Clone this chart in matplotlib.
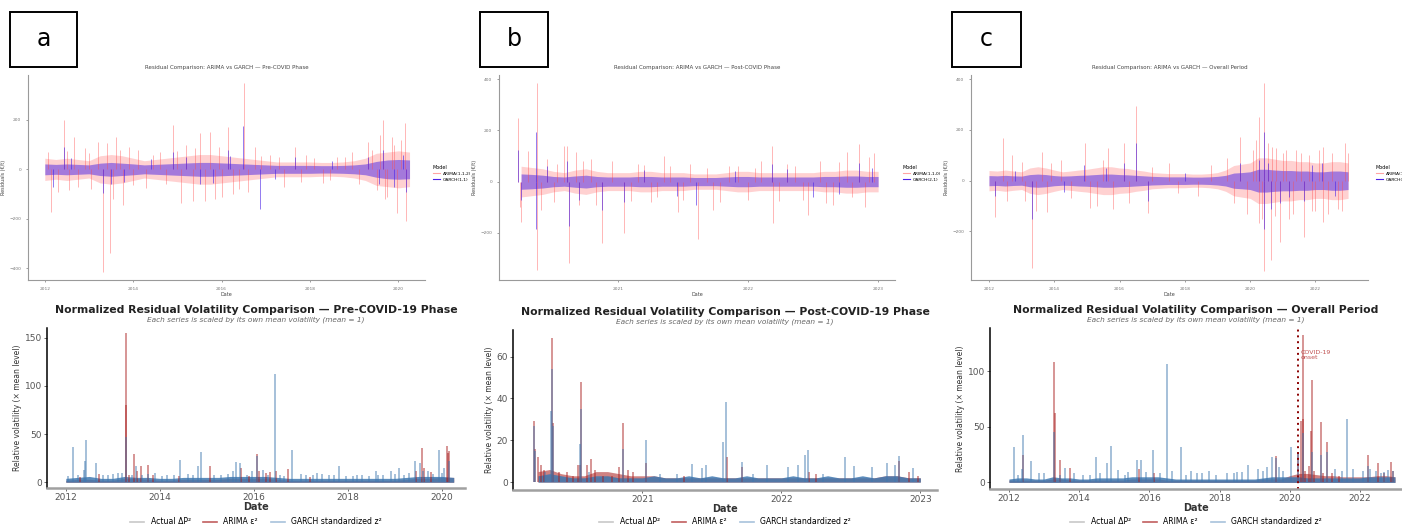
import numpy as np
import matplotlib
matplotlib.use("Agg")
import matplotlib.pyplot as plt
from matplotlib.patches import Rectangle
from matplotlib.lines import Line2D

W, H = 1402, 529

# ---------------- top row: raw residuals (ARIMA vs GARCH) ----------------
top_titles = ["Residual Comparison: ARIMA vs GARCH \u2014 Pre-COVID Phase",
              "Residual Comparison: ARIMA vs GARCH \u2014 Post-COVID Phase",
              "Residual Comparison: ARIMA vs GARCH \u2014 Overall Period"]
top_models = [["ARIMA(1,1,2)", "GARCH(1,1)"],
              ["ARIMA(1,1,0)", "GARCH(2,1)"],
              ["ARIMA(1,1,2)", "GARCH(1,1)"]]

# band grid (quarterly for a and c, monthly for b)
grid_a = np.arange(34) * 0.25 + 2012.0
grid_b = np.arange(34) / 12 + 2020.25
grid_c = np.arange(45) * 0.25 + 2012.0

arima_band_a = [45, 40, 45, 40, 35, 55, 60, 55, 45, 35, 40, 45, 50, 55, 60, 60, 55,
                50, 45, 40, 35, 30, 30, 30, 30, 28, 28, 30, 35, 45, 65, 70, 75, 70]
garch_band_a = [22, 20, 22, 20, 18, 25, 28, 25, 22, 18, 20, 22, 24, 26, 28, 28, 26,
                24, 22, 20, 18, 16, 16, 16, 16, 15, 15, 16, 18, 22, 32, 38, 40, 38]
arima_band_b = [60, 55, 50, 40, 35, 45, 50, 40, 35, 35, 35, 40, 40, 35, 35, 35, 30,
                30, 30, 35, 40, 40, 35, 35, 35, 35, 35, 35, 40, 40, 45, 45, 40, 40]
garch_band_b = [30, 28, 25, 20, 18, 22, 25, 20, 18, 18, 18, 20, 20, 18, 18, 18, 16,
                16, 16, 18, 20, 20, 18, 18, 18, 18, 18, 18, 20, 20, 22, 22, 20, 20]
arima_band_c = [40, 38, 42, 38, 35, 50, 55, 50, 42, 35, 38, 42, 45, 50, 55, 55, 50, 48,
                42, 38, 32, 30, 28, 28, 28, 26, 26, 28, 32, 42, 60, 65, 70, 90, 90, 85,
                80, 80, 75, 75, 70, 70, 75, 75, 70]
garch_band_c = [20, 19, 21, 19, 18, 24, 26, 24, 20, 18, 19, 21, 22, 24, 26, 26, 24, 23,
                21, 19, 17, 16, 15, 15, 15, 14, 14, 15, 17, 21, 30, 32, 35, 45, 45, 42,
                40, 40, 38, 38, 35, 35, 38, 38, 35]

arima_spk_a_x = [2012.08, 2012.15, 2012.3, 2012.43, 2012.55, 2012.66, 2012.9, 2013.05,
                 2013.2, 2013.31, 2013.40, 2013.47, 2013.55, 2013.62, 2013.77, 2013.9,
                 2014.1, 2014.3, 2014.6, 2014.91, 2015.09, 2015.2, 2015.35, 2015.51,
                 2015.62, 2015.74, 2015.85, 2016.0, 2016.14, 2016.25, 2016.51, 2016.6,
                 2016.75, 2017.1, 2017.4, 2017.66, 2017.9, 2018.3, 2018.6, 2018.95,
                 2019.3, 2019.51, 2019.58, 2019.66, 2019.75, 2019.85, 2019.96, 2020.05,
                 2020.15, 2020.17, 2012.5, 2012.75, 2013.0, 2013.7, 2014.0, 2014.45,
                 2014.75, 2015.0, 2015.4, 2015.95, 2016.4, 2016.9, 2017.3, 2017.8,
                 2018.1, 2018.45, 2018.8, 2019.1, 2019.4, 2019.7, 2019.9]
arima_spk_a_y = [70, -171, -90, 200, -85, 132, 85, -80, 110, -414, 105, -340, -120, 132,
                 -145, 90, 80, -75, 70, 180, -138, 100, -130, 146, -130, 152, -120, -110,
                 173, -100, 351, -90, 90, 60, -70, 92, 60, -55, 50, 70, 110, -84, 140,
                 200, -110, 130, -178, 120, 186, -210, 75, -70, 65, 80, -65, 60, -60,
                 75, 85, 90, -80, 55, 50, -50, 45, -45, 50, -60, 80, -120, 100]
garch_spk_a_x = [2012.19, 2012.43, 2013.31, 2013.5, 2014.9, 2015.5, 2016.14, 2016.49,
                 2016.87, 2017.66, 2019.66, 2019.9, 2020.1, 2020.17, 2012.6, 2013.8,
                 2014.4, 2015.2, 2015.8, 2016.2, 2017.2, 2018.5, 2019.3, 2019.55]
garch_spk_a_y = [-70, 90, -97, -60, 70, -60, 80, 175, -162, 50, 80, -70, 60, -90, 45,
                 -50, 40, 50, -55, 55, -40, 35, 50, -60]

arima_spk_b_x = [2020.23, 2020.24, 2020.25, 2020.3, 2020.37, 2020.372, 2020.45, 2020.5,
                 2020.58, 2020.6, 2020.62, 2020.67, 2020.7, 2020.79, 2020.87, 2020.95,
                 2021.04, 2021.15, 2021.25, 2021.35, 2021.46, 2021.55, 2021.61, 2021.73,
                 2021.85, 2022.0, 2022.1, 2022.18, 2022.19, 2022.3, 2022.46, 2022.55,
                 2022.65, 2022.76, 2022.85, 2022.9, 2022.97, 2020.4, 2020.53, 2020.73,
                 2020.83, 2021.1, 2021.2, 2021.3, 2021.4, 2021.5, 2021.68, 2021.78,
                 2021.92, 2022.05, 2022.24, 2022.36, 2022.42, 2022.6, 2022.7, 2022.8,
                 2022.93]
arima_spk_b_y = [247, -100, -156, 120, 384, -345, 90, -80, 137, 137, -318, 117, -90, 87,
                 -240, 80, -201, 70, -80, 100, -117, 70, -225, -110, 60, -70, 80, 137,
                 -160, 70, -130, 80, -90, 117, 147, -100, 110, -110, 70, 80, -90, -75,
                 65, -60, 60, -70, 55, -80, 60, 55, -75, 60, -70, -85, 75, -60, 95]
garch_spk_b_x = [2020.23, 2020.25, 2020.365, 2020.368, 2020.6, 2020.62, 2020.87, 2021.04,
                 2021.6, 2022.18, 2022.5, 2022.85, 2020.45, 2020.7, 2021.2, 2021.45,
                 2021.9, 2022.3, 2022.7, 2022.95]
garch_spk_b_y = [123, -70, 195, -185, 80, -175, -110, -80, -90, 70, -60, 72, 60, -70,
                 45, -55, 40, 50, -50, 55]

arima_spk_c_x = [2012.18, 2012.44, 2012.7, 2013.1, 2013.31, 2013.45, 2013.61, 2013.77,
                 2014.2, 2014.94, 2015.09, 2015.3, 2015.65, 2015.8, 2016.13, 2016.5,
                 2016.88, 2017.5, 2018.4, 2019.3, 2019.68, 2019.9, 2020.19, 2020.27,
                 2020.28, 2020.42, 2020.43, 2020.55, 2020.65, 2020.66, 2020.8, 2020.91,
                 2021.0, 2021.2, 2021.4, 2021.65, 2021.8, 2022.0, 2022.23, 2022.24,
                 2022.5, 2022.7, 2022.9, 2023.0, 2012.55, 2013.0, 2013.9, 2014.5,
                 2015.5, 2016.3, 2017.0, 2017.8, 2018.8, 2019.5, 2020.1, 2020.35,
                 2020.75, 2021.1, 2021.3, 2021.55, 2021.9, 2022.1, 2022.4, 2022.8]
arima_spk_c_y = [-142, 167, 100, -80, -346, -120, 114, -122, 80, 147, -109, -100, 128,
                 -110, 147, 295, -129, 70, -60, 90, 171, -130, 160, 253, -168, 387, -355,
                 150, -313, 134, 130, -241, 110, -150, 120, -221, 100, -120, -162, 134,
                 110, -110, 147, 108, -80, 75, 70, -70, 80, -90, 55, -50, 60, -90, 120,
                 -150, -140, 120, -130, 110, -120, 120, -130, -120]
garch_spk_c_x = [2012.18, 2013.31, 2014.9, 2016.13, 2016.5, 2016.88, 2019.7, 2020.27,
                 2020.42, 2020.43, 2020.65, 2020.9, 2021.65, 2022.2, 2012.8, 2014.3,
                 2015.6, 2018.0, 2020.55, 2021.2, 2021.9, 2022.6]
garch_spk_c_y = [-60, -150, 60, 70, 147, -80, 70, 82, 193, -190, -110, -90, -80, 70,
                 40, -45, 50, 30, 70, -65, 60, -60]

top_data = [
    (grid_a, arima_band_a, garch_band_a, arima_spk_a_x, arima_spk_a_y, garch_spk_a_x, garch_spk_a_y),
    (grid_b, arima_band_b, garch_band_b, arima_spk_b_x, arima_spk_b_y, garch_spk_b_x, garch_spk_b_y),
    (grid_c, arima_band_c, garch_band_c, arima_spk_c_x, arima_spk_c_y, garch_spk_c_x, garch_spk_c_y),
]
top_xlims = [(2011.62, 2020.60), (2020.08, 2023.13), (2011.45, 2023.61)]
top_ylims = [(-448, 382), (-384, 416), (-392, 417)]
top_xticks = [[2012, 2014, 2016, 2018, 2020], [2021, 2022, 2023],
              [2012, 2014, 2016, 2018, 2020, 2022]]
top_yticks = [[-400, -200, 0, 200], [-200, 0, 200, 400], [-200, 0, 200, 400]]

# ---------------- bottom row: normalised volatility ----------------
bot_titles = ["Normalized Residual Volatility Comparison \u2014 Pre-COVID-19 Phase",
              "Normalized Residual Volatility Comparison \u2014 Post-COVID-19 Phase",
              "Normalized Residual Volatility Comparison \u2014 Overall Period"]
bot_sub = "Each series is scaled by its own mean volatility (mean = 1)"
series_names = ["Actual \u0394P\u00b2", "ARIMA \u03b5\u00b2", "GARCH standardized z\u00b2"]

garch_base_a = [4, 5, 6, 4, 4, 6, 5, 5, 4, 4, 5, 5, 5, 5, 6, 6, 6,
                6, 5, 4, 4, 4, 4, 4, 4, 4, 4, 4, 4, 5, 6, 6, 6, 5]
arima_base_a = [2, 3, 3, 2, 2, 4, 4, 3, 2, 2, 3, 3, 3, 3, 4, 4, 4,
                4, 3, 2, 2, 2, 2, 2, 2, 2, 2, 2, 2, 3, 4, 4, 5, 5]
actual_base_a = [2, 2, 3, 2, 2, 3, 3, 2, 2, 2, 2, 2, 2, 3, 3, 3, 3,
                 3, 2, 2, 2, 2, 2, 2, 2, 2, 2, 2, 2, 2, 3, 3, 3, 3]
garch_base_b = [3, 4, 3, 2, 2, 3, 3, 2, 2, 2, 3, 2, 2, 3, 2, 3, 2,
                2, 3, 2, 2, 2, 3, 2, 2, 3, 2, 2, 3, 2, 3, 3, 2, 2]
arima_base_b = [5, 6, 4, 3, 3, 5, 5, 4, 3, 3, 3, 2, 2, 2, 2, 2, 2,
                2, 2, 2, 2, 2, 2, 2, 2, 2, 2, 2, 2, 2, 3, 3, 2, 2]
actual_base_b = [3, 3, 2, 2, 2, 2, 3, 2, 2, 2, 2, 2, 2, 2, 2, 2, 2,
                 2, 2, 2, 2, 2, 2, 2, 2, 2, 2, 2, 2, 2, 2, 2, 2, 2]
garch_base_c = [3, 4, 4, 3, 3, 5, 4, 4, 3, 3, 4, 4, 4, 4, 5, 5, 5, 5, 4, 3, 3, 3, 3,
                3, 3, 3, 3, 3, 3, 4, 5, 5, 5, 5, 4, 4, 4, 4, 4, 4, 4, 5, 5, 5, 5]
arima_base_c = [2, 2, 2, 2, 2, 3, 3, 2, 2, 2, 2, 2, 2, 2, 3, 3, 3, 3, 2, 2, 2, 2, 2,
                2, 2, 2, 2, 2, 2, 3, 3, 3, 6, 8, 8, 7, 6, 6, 5, 5, 5, 5, 6, 6, 5]
actual_base_c = [2, 2, 2, 2, 2, 3, 3, 2, 2, 2, 2, 2, 2, 2, 3, 3, 3, 3, 2, 2, 2, 2, 2,
                 2, 2, 2, 2, 2, 2, 2, 3, 3, 4, 4, 4, 4, 3, 3, 3, 3, 3, 3, 3, 3, 3]

arima_vol_a_x = [2012.3, 2012.7, 2013.27, 2013.28, 2013.35, 2013.46, 2013.52, 2013.6,
                 2013.74, 2013.85, 2014.4, 2015.07, 2015.73, 2015.9, 2016.06, 2016.1,
                 2016.25, 2016.35, 2016.48, 2016.72, 2017.2, 2019.45, 2019.57, 2019.62,
                 2019.77, 2020.1, 2020.12, 2020.14]
arima_vol_a_y = [5, 9, 155, 80, 8, 29, 12, 17, 18, 8, 6, 17, 15, 6, 29, 12, 10, 11, 12,
                 14, 5, 12, 36, 15, 11, 38, 30, 32]
garch_vol_a_x = [2012.16, 2012.38, 2012.4, 2012.43, 2012.64, 2012.9, 2013.1, 2013.27,
                 2013.5, 2013.62, 2013.9, 2014.15, 2014.42, 2014.6, 2014.82, 2014.88,
                 2015.3, 2015.55, 2015.61, 2015.70, 2015.95, 2016.06, 2016.2, 2016.44,
                 2016.55, 2016.81, 2017.1, 2017.35, 2017.6, 2017.8, 2018.1, 2018.3,
                 2018.59, 2018.75, 2018.91, 2019.09, 2019.3, 2019.43, 2019.53, 2019.6,
                 2019.94, 2020.05, 2020.14, 2012.05, 2012.25, 2012.8, 2013.0, 2013.2,
                 2013.4, 2013.75, 2014.05, 2014.3, 2014.7, 2015.15, 2015.45, 2015.85,
                 2016.3, 2016.65, 2017.0, 2017.25, 2017.45, 2017.7, 2017.95, 2018.2,
                 2018.45, 2018.65, 2019.0, 2019.2, 2019.7, 2019.8, 2020.0]
garch_vol_a_y = [37, 13, 22, 44, 20, 8, 10, 47, 17, 8, 10, 8, 23, 9, 17, 31, 8, 12, 21,
                 20, 12, 27, 13, 112, 8, 33, 8, 10, 8, 17, 6, 8, 12, 8, 12, 15, 10, 22,
                 20, 12, 33, 15, 22, 6, 7, 8, 9, 10, 7, 9, 6, 7, 8, 7, 9, 8, 7, 6, 9, 7,
                 9, 7, 6, 7, 6, 8, 9, 8, 12, 9, 10]

arima_vol_b_x = [2020.22, 2020.23, 2020.25, 2020.27, 2020.29, 2020.35, 2020.36, 2020.40,
                 2020.46, 2020.5, 2020.54, 2020.555, 2020.56, 2020.6, 2020.63, 2020.66,
                 2020.72, 2020.78, 2020.83, 2020.86, 2020.9, 2020.93, 2021.03, 2021.3,
                 2021.61, 2021.72, 2022.2, 2022.25, 2022.85, 2022.92, 2022.98]
arima_vol_b_y = [29, 16, 12, 8, 6, 69, 28, 5, 5, 3, 8, 8, 48, 8, 11, 6, 3, 3, 7, 28, 6,
                 5, 9, 3, 12, 7, 5, 4, 10, 5, 3]
garch_vol_b_x = [2020.22, 2020.225, 2020.3, 2020.34, 2020.35, 2020.36, 2020.55, 2020.56,
                 2020.62, 2020.86, 2021.03, 2021.13, 2021.25, 2021.36, 2021.43, 2021.46,
                 2021.58, 2021.60, 2021.72, 2021.8, 2021.90, 2022.05, 2022.12, 2022.17,
                 2022.19, 2022.3, 2022.46, 2022.52, 2022.65, 2022.76, 2022.82, 2022.85,
                 2022.95]
garch_vol_b_y = [27, 15, 5, 34, 54, 27, 18, 35, 5, 16, 20, 4, 4, 8.5, 6.5, 8, 19, 38.5,
                 9.5, 4, 8, 7, 8, 13, 15.5, 4, 12, 7.5, 7, 9, 8, 12.5, 6.5]

arima_vol_c_x = [2012.41, 2013.29, 2013.3, 2013.46, 2013.73, 2015.7, 2016.12, 2019.62,
                 2020.23, 2020.31, 2020.38, 2020.39, 2020.45, 2020.55, 2020.62, 2020.64,
                 2020.7, 2020.88, 2020.95, 2021.07, 2021.2, 2021.4, 2022.22, 2022.51,
                 2022.7, 2022.89, 2022.95]
arima_vol_c_y = [25, 108, 62, 20, 13, 12, 8, 24, 26, 55, 133, 57, 10, 15, 46, 92, 10, 54,
                 8, 36, 8, 6, 25, 17, 8, 18, 10]
garch_vol_c_x = [2012.15, 2012.38, 2012.41, 2012.63, 2013.0, 2013.29, 2013.6, 2014.1,
                 2014.47, 2014.8, 2014.92, 2015.12, 2015.4, 2015.65, 2015.75, 2016.11,
                 2016.51, 2016.65, 2016.91, 2017.2, 2017.5, 2017.7, 2018.22, 2018.5,
                 2018.8, 2019.1, 2019.35, 2019.49, 2019.62, 2019.8, 2020.04, 2020.23,
                 2020.38, 2020.64, 2020.88, 2021.07, 2021.3, 2021.63, 2021.8, 2022.1,
                 2022.22, 2022.45, 2022.6, 2022.8, 2022.95, 2012.25, 2012.85, 2013.45,
                 2013.85, 2014.3, 2014.6, 2015.3, 2015.9, 2016.3, 2017.05, 2017.35,
                 2017.9, 2018.4, 2018.65, 2019.25, 2019.7, 2021.5, 2022.3, 2022.7]
garch_vol_c_y = [31.5, 12, 43, 19, 8, 45, 13, 7, 23, 17, 32.5, 11, 9, 20, 20, 29, 107,
                 10, 32, 10, 8, 10, 8, 9, 16, 12, 14, 23, 22, 10, 32, 27, 44, 27, 25, 27,
                 12, 57, 12, 10, 15, 10, 8, 11, 10, 7, 8, 7, 8, 7, 8, 7, 9, 8, 7, 8, 7,
                 8, 9, 10, 14, 10, 12, 9]

covid_onset = 2020.23

bot_data = [
    (grid_a, actual_base_a, arima_base_a, garch_base_a, arima_vol_a_x, arima_vol_a_y, garch_vol_a_x, garch_vol_a_y),
    (grid_b, actual_base_b, arima_base_b, garch_base_b, arima_vol_b_x, arima_vol_b_y, garch_vol_b_x, garch_vol_b_y),
    (grid_c, actual_base_c, arima_base_c, garch_base_c, arima_vol_c_x, arima_vol_c_y, garch_vol_c_x, garch_vol_c_y),
]
bot_xlims = [(2011.60, 2020.49), (2020.07, 2023.12), (2011.46, 2023.2)]
bot_ylims = [(-6, 160), (-3.8, 72.7), (-6, 139)]
bot_xticks = [[2012, 2014, 2016, 2018, 2020], [2021, 2022, 2023],
              [2012, 2014, 2016, 2018, 2020, 2022]]
bot_yticks = [[0, 50, 100, 150], [0, 20, 40, 60], [0, 50, 100]]

# pixel boxes (left, top, right, bottom)
top_boxes = [(28, 75, 425, 280), (499, 75, 895, 280), (971, 75, 1368, 280)]
bot_boxes = [(47, 328, 465, 488), (513, 330, 937, 490), (990, 328, 1402, 489)]
label_boxes = [(10, 12, 77, 67), (480, 12, 548, 67), (952, 12, 1021, 67)]

ARIMA_TOP = "#ff4a4a"
GARCH_TOP = "#4a22e6"
ACT_C = "#c8c8c8"
ARIMA_C = "#a81c1c"
GARCH_C = "#3f78b0"


def px_axes(fig, box):
    l, t, r, b = box
    return fig.add_axes([l / W, 1 - b / H, (r - l) / W, (b - t) / H])


fig = plt.figure(figsize=(W / 100, H / 100), dpi=100)

for i in range(3):
    # top panel
    ax = px_axes(fig, top_boxes[i])
    g, ab, gb, asx, asy, gsx, gsy = top_data[i]
    ab = np.array(ab)
    gb = np.array(gb)
    ax.fill_between(g, -ab, ab, color=ARIMA_TOP, alpha=0.25, lw=0)
    ax.vlines(asx, 0, asy, color=ARIMA_TOP, alpha=0.4, lw=0.7)
    ax.fill_between(g, -gb, gb, color=GARCH_TOP, alpha=0.5, lw=0)
    ax.vlines(gsx, 0, gsy, color=GARCH_TOP, alpha=0.6, lw=0.7)
    ax.set_xlim(top_xlims[i])
    ax.set_ylim(top_ylims[i])
    ax.set_xticks(top_xticks[i])
    ax.set_yticks(top_yticks[i])
    ax.set_xticklabels([str(t) for t in top_xticks[i]])
    for s in ["top", "right"]:
        ax.spines[s].set_visible(False)
    for s in ["left", "bottom"]:
        ax.spines[s].set_color("#9a9a9a")
        ax.spines[s].set_linewidth(0.8)
    ax.tick_params(labelsize=3.2, colors="#777777", length=1.5, width=0.5)
    ax.set_title(top_titles[i], fontsize=4, color="#444444", pad=4)
    ax.set_xlabel("Date", fontsize=3.5, color="#444444", labelpad=1)
    ax.set_ylabel("Residuals (\u20ac/t)", fontsize=3.5, color="#444444", labelpad=2)
    h = [Line2D([], [], color=ARIMA_TOP, alpha=0.5, lw=0.8),
         Line2D([], [], color=GARCH_TOP, lw=0.8)]
    leg = ax.legend(h, top_models[i], title="Model", loc="center left",
                    bbox_to_anchor=(1.01, 0.52), frameon=False, fontsize=3.2,
                    title_fontsize=3.5, handlelength=1.5, labelspacing=0.4)
    leg._legend_box.align = "left"

    # bottom panel
    l, t, r, b = bot_boxes[i]
    ax = px_axes(fig, bot_boxes[i])
    g, acb, arb, gab, avx, avy, gvx, gvy = bot_data[i]
    ax.fill_between(g, 0, acb, color=ACT_C, alpha=0.6, lw=0)
    ax.fill_between(g, 0, arb, color=ARIMA_C, alpha=0.55, lw=0)
    ax.vlines(avx, 0, avy, color=ARIMA_C, alpha=0.55, lw=1.2)
    ax.fill_between(g, 0, gab, color=GARCH_C, alpha=0.85, lw=0)
    ax.vlines(gvx, 0, gvy, color=GARCH_C, alpha=0.55, lw=1.2)
    if i == 2:
        ax.axvline(covid_onset, color="#8b0000", ls=(0, (1, 2)), lw=1.4)
        ax.text(covid_onset + 0.08, 110, "COVID-19\nonset", fontsize=4.5,
                color="#c05050", va="bottom", linespacing=1.0)
    ax.set_xlim(bot_xlims[i])
    ax.set_ylim(bot_ylims[i])
    ax.set_xticks(bot_xticks[i])
    ax.set_yticks(bot_yticks[i])
    ax.set_xticklabels([str(t) for t in bot_xticks[i]])
    for s in ["top", "right"]:
        ax.spines[s].set_visible(False)
    ax.spines["left"].set_color("black")
    ax.spines["left"].set_linewidth(1.1)
    ax.spines["bottom"].set_color("#a0a0a0")
    ax.spines["bottom"].set_linewidth(1.8)
    ax.tick_params(labelsize=6.5, colors="#555555", length=2, width=0.6, pad=1.5)
    ax.set_title(bot_titles[i], fontsize=7.8, fontweight="bold", color="#222222", pad=11)
    ax.text(0.5, 1.03, bot_sub, transform=ax.transAxes, ha="center", va="bottom",
            fontsize=5.3, style="italic", color="#666666")
    ax.set_xlabel("Date", fontsize=7, fontweight="bold", color="#333333", labelpad=0)
    ax.set_ylabel("Relative volatility (\u00d7 mean level)", fontsize=5.5,
                  color="#333333", labelpad=2)
    h = [Line2D([], [], color=ACT_C, lw=1.2),
         Line2D([], [], color=ARIMA_C, alpha=0.7, lw=1.2),
         Line2D([], [], color="#a8c2dc", lw=1.2)]
    ax.legend(h, series_names, loc="center", bbox_to_anchor=(0.5, -(522 - b) / (b - t)),
              ncol=3, frameon=False, fontsize=5.6, handlelength=1.8, columnspacing=1.6,
              borderpad=0.0)

# panel letters
for (l, t, r, b), lab in zip(label_boxes, ["a", "b", "c"]):
    fig.add_artist(Rectangle((l / W, 1 - b / H), (r - l) / W, (b - t) / H,
                             transform=fig.transFigure, fill=False, lw=1.4, ec="black"))
    fig.text((l + r) / 2 / W, 1 - (t + b) / 2 / H, lab, fontsize=17,
             ha="center", va="center")

fig.savefig("out.png", dpi=100, facecolor="white")
